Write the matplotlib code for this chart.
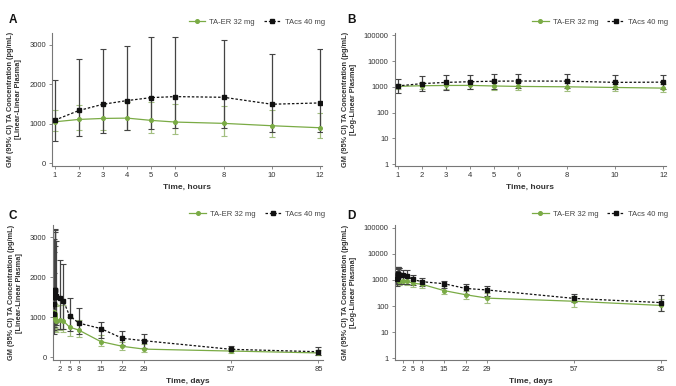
import numpy as np
import matplotlib
matplotlib.use("Agg")
import matplotlib.pyplot as plt

plt.rcParams['font.family'] = ['Liberation Sans', 'DejaVu Sans']

# ---- data ----
hours = [1, 2, 3, 4, 5, 6, 8, 10, 12]
days = [2, 3, 5, 8, 15, 22, 29, 57, 85]

er_h_gm = [1045, 1105, 1130, 1138, 1080, 1038, 1005, 945, 894]
er_h_up = [1347, 1482, 1500, 1540, 1558, 1497, 1457, 1332, 1271]
er_h_lo = [804, 829, 830, 830, 754, 729, 693, 661, 628]

cs_h_gm = [1088, 1332, 1490, 1583, 1658, 1683, 1666, 1490, 1523]
cs_h_up = [2093, 2628, 2889, 2955, 3191, 3183, 3115, 2764, 2889]
cs_h_lo = [568, 686, 754, 837, 854, 879, 879, 794, 794]

er_d_gm = [940, 905, 750, 675, 390, 270, 200, 152, 105]
er_d_up = [1290, 1290, 1000, 920, 560, 390, 320, 240, 185]
er_d_lo = [670, 640, 530, 500, 290, 185, 135, 94, 62]

cs_d_gm = [1470, 1410, 1035, 850, 715, 470, 410, 195, 135]
cs_d_up = [2430, 2330, 1480, 1220, 890, 665, 580, 280, 260]
cs_d_lo = [700, 700, 660, 570, 490, 300, 240, 143, 65]

lin_ticks = [0, 1000, 2000, 3000]
log_ticks = [1, 10, 100, 1000, 10000, 100000]
day_ticks = [2, 5, 8, 15, 22, 29, 57, 85]

GREEN = '#7aab45'
GREEN_E = '#a3bf80'
BLACK = '#111111'
BLACK_E = '#444444'

fig = plt.figure(figsize=(6.76, 3.86), dpi=100)
fig.patch.set_facecolor('white')

rects = {
    'A': [0.077, 0.570, 0.400, 0.345],
    'B': [0.584, 0.570, 0.401, 0.345],
    'C': [0.078, 0.067, 0.400, 0.350],
    'D': [0.584, 0.067, 0.401, 0.350],
}

def series(ax, x, gm, lo, up, color, ecolor, marker, ls, label, ms):
    gm = np.array(gm, float); lo = np.array(lo, float); up = np.array(up, float)
    ax.errorbar(x, gm, yerr=[gm - lo, up - gm], fmt='none', ecolor=ecolor,
                elinewidth=0.9, capsize=2, capthick=0.8, zorder=2)
    ax.plot(x, gm, color=color, ls=ls, lw=0.9, marker=marker, ms=ms,
            mfc=color, mec=color, label=label, zorder=3)

def style(ax, ylabel2, xlabel):
    for s in ['top', 'right']:
        ax.spines[s].set_visible(False)
    for s in ['left', 'bottom']:
        ax.spines[s].set_color('#777777')
        ax.spines[s].set_linewidth(0.8)
    ax.tick_params(axis='both', labelsize=5.5, length=2.5, width=0.6,
                   color='#777777', labelcolor='#333333', pad=2)
    ax.set_ylabel('GM (95% CI) TA Concentration (pg/mL)\n' + ylabel2,
                  fontsize=5.3, fontweight='bold', color='#333333', labelpad=5)
    ax.set_xlabel(xlabel, fontsize=6, fontweight='bold', color='#333333', labelpad=3)
    leg = ax.legend(loc='lower right', bbox_to_anchor=(1.02, 1.03), ncol=2,
                    frameon=False, fontsize=5.5, handlelength=2.2,
                    columnspacing=1.2, handletextpad=0.5, borderaxespad=0)
    for t in leg.get_texts():
        t.set_color('#444444')

letters = {'A': (0.013, 0.940), 'B': (0.513, 0.940), 'C': (0.013, 0.433), 'D': (0.513, 0.433)}

for key in ['A', 'B', 'C', 'D']:
    ax = fig.add_axes(rects[key])
    log = key in ('B', 'D')
    if key in ('A', 'B'):
        xe = hours
        er = (er_h_gm, er_h_lo, er_h_up); cs = (cs_h_gm, cs_h_lo, cs_h_up)
        xlabel = 'Time, hours'
    else:
        xe = list(np.array(hours) / 24.0) + days
        er = (er_h_gm + er_d_gm, er_h_lo + er_d_lo, er_h_up + er_d_up)
        cs = (cs_h_gm + cs_d_gm, cs_h_lo + cs_d_lo, cs_h_up + cs_d_up)
        xlabel = 'Time, days'
    series(ax, xe, *er, GREEN, GREEN_E, 'o', '-', 'TA-ER 32 mg', 2.6)
    series(ax, xe, *cs, BLACK, BLACK_E, 's', (0, (2, 1.5)), 'TAcs 40 mg', 2.4)
    if log:
        ax.set_yscale('log')
        ax.set_yticks(log_ticks)
        ax.set_yticklabels([str(t) for t in log_ticks])
        ax.minorticks_off()
        ax.set_ylim(0.85, 125000)
        ylabel2 = '[Log-Linear Plasma]'
    else:
        ax.set_yticks(lin_ticks)
        ax.set_ylim(-75, 3300)
        ylabel2 = '[Linear-Linear Plasma]'
    if key in ('A', 'B'):
        ax.set_xticks(hours)
        ax.set_xlim(0.88, 12.1)
    else:
        ax.set_xticks(day_ticks)
        ax.set_xlim(-0.4 if key == 'C' else -0.8, 86.5)
    style(ax, ylabel2, xlabel)
    fig.text(*letters[key], key, fontsize=8.5, fontweight='bold', color='#111111')

fig.savefig('out.png', dpi=100, facecolor='white')
